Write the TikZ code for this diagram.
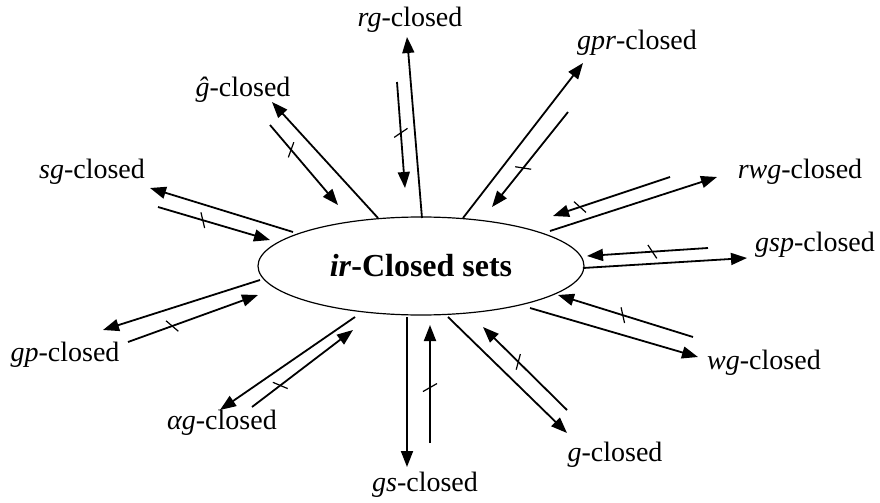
\documentclass[tikz,border=0pt]{standalone}
\usepackage{fontspec}
\setmainfont{Liberation Serif}
\usetikzlibrary{arrows.meta,shapes.geometric,decorations.markings}

\begin{document}
\begin{tikzpicture}[x=0.5pt,y=-0.5pt,
	freccia/.style={line width=0.9pt,-{Triangle[length=8pt,width=6pt]}},
	barrata/.style={freccia,postaction={decorate},
		decoration={markings,mark=at position #1 with {\draw[-,line width=0.6pt] (-2pt,3.5pt) -- (2pt,-3.5pt);}}},
	etichetta/.style={font=\fontsize{14}{16}\selectfont,inner sep=0pt}]

	\useasboundingbox (0,0) rectangle (880,503);

	% insieme centrale
	\node[draw,ellipse,line width=0.6pt,minimum width=163pt,minimum height=49pt,inner sep=0pt,
		font=\fontsize{16}{19}\selectfont\bfseries] (ir) at (421,266) {\textit{ir}-Closed sets};

	% etichette
	\node[etichetta] (rg) at (410,20) {\textit{rg}-closed};
	\node[etichetta] (gpr) at (637,43) {\textit{gpr}-closed};
	\node[etichetta] (hg) at (243,90) {\textit{ĝ}-closed};
	\node[etichetta] (sg) at (92,172) {\textit{sg}-closed};
	\node[etichetta] (rwg) at (800,172) {\textit{rwg}-closed};
	\node[etichetta] (gsp) at (815,245) {\textit{gsp}-closed};
	\node[etichetta] (gp) at (65,355) {\textit{gp}-closed};
	\node[etichetta] (wg) at (764,363) {\textit{wg}-closed};
	\node[etichetta] (ag) at (222,423) {\textit{αg}-closed};
	\node[etichetta] (g) at (615,455) {\textit{g}-closed};
	\node[etichetta] (gs) at (425,485) {\textit{gs}-closed};

	% coppie di frecce: uscente (a -> b), entrante barrata (c -> d)
	\foreach \n/\xa/\ya/\xb/\yb/\xc/\yc/\xd/\yd/\p in {
		rg/422/218/407/37/397/82/405/188/0.48,
		gpr/463/218/583/63/568/112/492/207/0.59,
		hg/378/218/272/102/270/125/338/205/0.31,
		sg/293/232/150/188/158/207/270/240/0.40,
		gp/260/280/103/330/128/342/258/295/0.34,
		ag/355/317/220/410/252/407/353/330/0.28,
		gs/407/317/407/467/430/443/430/325/0.47,
		g/448/317/567/433/567/410/483/327/0.58,
		wg/530/308/698/357/693/337/558/295/0.52,
		gsp/583/268/747/258/708/248/587/256/0.46,
		rwg/550/231/717/177/670/177/553/216/0.77}
	{
		\coordinate (\n-a) at (\xa,\ya);
		\coordinate (\n-b) at (\xb,\yb);
		\coordinate (\n-c) at (\xc,\yc);
		\coordinate (\n-d) at (\xd,\yd);
		\draw[freccia] (\n-a) -- (\n-b);
		\draw[barrata=\p] (\n-c) -- (\n-d);
	}

\end{tikzpicture}
\end{document}
